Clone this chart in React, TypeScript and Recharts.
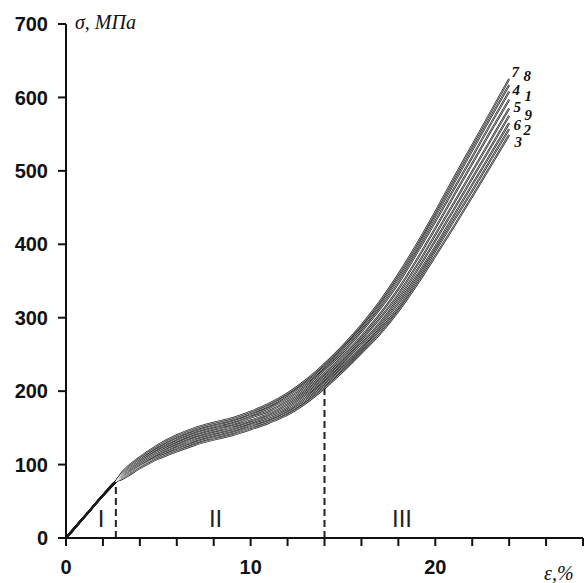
import { LineChart, Line, XAxis, YAxis, ReferenceLine, ReferenceDot } from 'recharts';

// strain, %
const strain = [0, 1, 2, 2.7, 3, 4, 5, 6, 7, 8, 9, 10, 11, 12, 13, 14, 15, 16, 17, 18, 19, 20, 21, 22, 23, 24];

// stress, MPa — curves listed from top to bottom at the right end
const curve7 = [0, 29, 58, 77, 88, 110, 127, 140, 150, 157, 163, 172, 183, 197, 215, 237, 262, 290, 322, 359, 400, 444, 490, 535, 580, 625];
const curve8 = [0, 29, 58, 77, 87, 108, 125, 138, 148, 155, 161, 170, 180, 194, 211, 233, 258, 286, 317, 353, 394, 438, 483, 528, 573, 617];
const curve4 = [0, 29, 58, 77, 86, 106, 122, 135, 145, 152, 158, 167, 177, 190, 207, 229, 253, 281, 312, 347, 388, 431, 475, 519, 564, 608];
const curve1 = [0, 29, 58, 77, 85, 104, 119, 132, 142, 149, 155, 164, 173, 186, 203, 224, 248, 275, 305, 339, 379, 422, 466, 510, 554, 597];
const curve5 = [0, 29, 58, 77, 84, 102, 117, 129, 139, 146, 152, 160, 169, 182, 199, 220, 243, 270, 299, 332, 371, 413, 456, 499, 542, 585];
const curve9 = [0, 29, 58, 77, 83, 100, 115, 126, 136, 143, 149, 157, 166, 178, 195, 216, 239, 265, 293, 326, 364, 405, 447, 490, 532, 575];
const curve6 = [0, 29, 58, 77, 82, 98, 112, 123, 133, 140, 146, 154, 162, 174, 191, 212, 235, 260, 288, 320, 357, 397, 439, 481, 523, 565];
const curve2 = [0, 29, 58, 77, 81, 97, 110, 120, 130, 137, 143, 151, 159, 171, 187, 208, 231, 256, 283, 314, 351, 391, 432, 473, 515, 557];
const curve3 = [0, 29, 58, 77, 80, 95, 108, 118, 127, 134, 140, 148, 157, 168, 184, 204, 227, 252, 278, 309, 345, 384, 424, 465, 507, 549];

const curveNames = ['7', '8', '4', '1', '5', '9', '6', '2', '3'];
const curveValues = [curve7, curve8, curve4, curve1, curve5, curve9, curve6, curve2, curve3];

// stage boundaries (dashed lines) and stage names
const boundaryX = [2.7, 14];
const boundaryTop = [77, 205];
const stageNames = ['I', 'II', 'III'];
const stageX = [1.9, 8.1, 18.2];

const xTicks = [0, 2, 4, 6, 8, 10, 12, 14, 16, 18, 20, 22, 24, 26, 28];
const yTicks = [0, 100, 200, 300, 400, 500, 600, 700];

// where each end-number sits relative to the end of its curve
const labelOffset = [
  { dx: 6, dy: -7 },
  { dx: 18, dy: -9 },
  { dx: 7, dy: -2 },
  { dx: 19, dy: -4 },
  { dx: 8, dy: -1 },
  { dx: 19, dy: -1 },
  { dx: 8, dy: 2 },
  { dx: 18, dy: 1 },
  { dx: 9, dy: 7 },
];

// the curves coincide along stage I, so the hollow core starts after it
const rows = strain.map((x, i) => {
  const row: Record<string, number | null> = { x };
  curveNames.forEach((name, k) => {
    row['c' + name] = curveValues[k][i];
    row['w' + name] = x >= boundaryX[0] ? curveValues[k][i] : null;
  });
  return row;
});

const last = strain.length - 1;
const tickFont = { fontFamily: 'Liberation Sans, Arial, sans-serif', fontWeight: 700, fontSize: 20, fill: '#111' };

const App = () => {
  return (
    <div style={{ position: 'absolute', left: 0, top: 0, width: 584, height: 583, background: '#fff', overflow: 'hidden' }}>
      <LineChart width={584} height={583} data={rows} margin={{ top: 24, right: 1, left: 0, bottom: 0 }}>
        <XAxis
          type="number"
          dataKey="x"
          domain={[0, 28]}
          ticks={xTicks}
          tickFormatter={(v: number) => (v % 10 === 0 ? String(v) : '')}
          height={45}
          tickSize={8}
          tickMargin={14}
          stroke="#111"
          strokeWidth={2}
          tick={tickFont}
        />
        <YAxis
          type="number"
          domain={[0, 700]}
          ticks={yTicks}
          width={66}
          tickSize={8}
          tickMargin={10}
          stroke="#111"
          strokeWidth={2}
          tick={tickFont}
        />
        {boundaryX.map((bx, i) => (
          <ReferenceLine
            key={'b' + i}
            segment={[{ x: bx, y: 0 }, { x: bx, y: boundaryTop[i] }]}
            stroke="#222"
            strokeWidth={2}
            strokeDasharray="7 4"
          />
        ))}
        {stageNames.map((s, i) => (
          <ReferenceDot
            key={'s' + i}
            x={stageX[i]}
            y={27}
            r={0}
            fill="none"
            stroke="none"
            label={{ value: s, position: 'center', fontFamily: 'Liberation Sans, Arial, sans-serif', fontSize: 24, fill: '#222' }}
          />
        ))}
        {curveNames.map((name) => (
          <Line
            key={'o' + name}
            type="monotone"
            dataKey={'c' + name}
            stroke="#1a1a1a"
            strokeWidth={2}
            dot={false}
            isAnimationActive={false}
          />
        ))}
        {curveNames.map((name, k) => (
          <Line
            key={'i' + name}
            type="monotone"
            dataKey={'w' + name}
            stroke="#ffffff"
            strokeWidth={0.6}
            dot={false}
            isAnimationActive={false}
            label={(p: any) =>
              p.index === last ? (
                <text
                  key={'l' + name}
                  x={p.x + labelOffset[k].dx}
                  y={p.y + labelOffset[k].dy}
                  textAnchor="middle"
                  dominantBaseline="central"
                  fontFamily="Liberation Serif, Times New Roman, serif"
                  fontStyle="italic"
                  fontWeight={700}
                  fontSize={15}
                  fill="#111"
                >
                  {name}
                </text>
              ) : (
                <g key={'l' + name + p.index} />
              )
            }
          />
        ))}
      </LineChart>
      <div
        style={{
          position: 'absolute',
          left: 75,
          top: 12,
          lineHeight: 1,
          whiteSpace: 'nowrap',
          fontFamily: 'Liberation Serif, Times New Roman, serif',
          fontStyle: 'italic',
          fontSize: 20,
          color: '#111',
        }}
      >
        σ, МПа
      </div>
      <div
        style={{
          position: 'absolute',
          left: 544,
          top: 563,
          lineHeight: 1,
          whiteSpace: 'nowrap',
          fontFamily: 'Liberation Serif, Times New Roman, serif',
          fontStyle: 'italic',
          fontSize: 20,
          color: '#111',
        }}
      >
        ε,%
      </div>
    </div>
  );
};

export default App;
